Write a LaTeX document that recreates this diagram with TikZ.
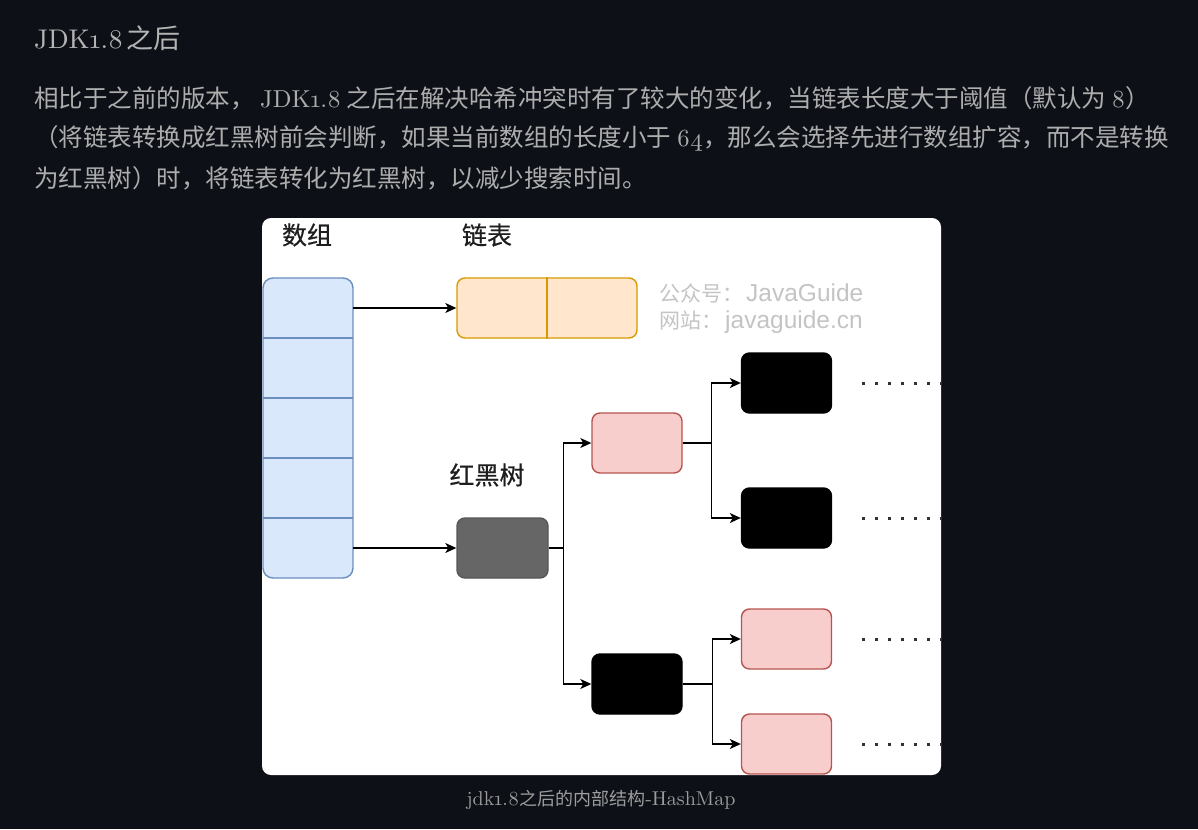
\documentclass[tikz,border=0pt]{standalone}
\usepackage{fontspec}
\usetikzlibrary{arrows.meta}
\newfontfamily\cjk{Noto Sans CJK SC}
\newfontfamily\cjkm{Noto Sans CJK SC}[FakeBold=0.5]
\newfontfamily\osf{lmroman10-regular.otf}[Numbers=OldStyle]
\newfontfamily\lsans{Liberation Sans}
\definecolor{bgcol}{HTML}{0D1117}
\definecolor{bodycol}{HTML}{ADADAD}
\definecolor{hdcol}{HTML}{B4B4B4}
\definecolor{capcol}{HTML}{9C9C9C}
\definecolor{arrfill}{HTML}{DAE8FC}
\definecolor{arrdraw}{HTML}{6C8EBF}
\definecolor{llfill}{HTML}{FFE6CC}
\definecolor{lldraw}{HTML}{D79B00}
\definecolor{pinkfill}{HTML}{F8CECC}
\definecolor{pinkdraw}{HTML}{B85450}
\definecolor{rbfill}{HTML}{666666}
\definecolor{lblcol}{HTML}{1E1E1E}
\definecolor{wmcol}{HTML}{C4C4C4}
\begin{document}
\begin{tikzpicture}[x=1pt,y=-1pt,
  box/.style={rectangle, rounded corners=8pt, minimum width=90pt, minimum height=60pt, inner sep=0pt, line width=1.4pt},
  pinkbox/.style={box, fill=pinkfill, draw=pinkdraw},
  blackbox/.style={box, fill=black, draw=black},
  cell/.style={rectangle, minimum width=90pt, minimum height=60pt, inner sep=0pt},
  conn/.style={line width=1.4pt, -{Stealth[length=11pt,width=10pt,inset=3pt]}},
  dotline/.style={line width=3pt, dash pattern=on 3pt off 10pt, draw=black!80},
  lbl/.style={font=\fontsize{25}{25}\selectfont\cjkm, text=lblcol, inner sep=0pt},
  wm/.style={anchor=west, inner sep=0pt, text=wmcol, font=\fontsize{21}{21}\selectfont\cjk},
  body/.style={anchor=base west, inner sep=0pt, text=bodycol, font=\fontsize{24.5}{29}\selectfont\cjk},
]
\fill[bgcol] (0,0) rectangle (1198,829);
\useasboundingbox (0,0) rectangle (1198,829);

% header and paragraph
\node[anchor=base west, inner sep=0pt, text=hdcol] (hd) at (34,49)
  {{\fontsize{27}{27}\selectfont\osf JDK1.8} {\fontsize{27}{27}\selectfont\cjk 之后}};
\node[body] (t1) at (34,108) {相比于之前的版本， {\osf JDK1.8} 之后在解决哈希冲突时有了较大的变化，当链表长度大于阈值（默认为 {\osf 8}）};
\node[body] (t2) at (34,147) {（将链表转换成红黑树前会判断，如果当前数组的长度小于 {\osf 64}，那么会选择先进行数组扩容，而不是转换};
\node[body] (t3) at (34,187) {为红黑树）时，将链表转化为红黑树，以减少搜索时间。};

% panel
\fill[white, rounded corners=9pt] (262,218) rectangle (941,775);
\begin{scope}
\clip[rounded corners=9pt] (262,218) rectangle (941,775);

% labels
\node[lbl] (l1) at (307,235) {数组};
\node[lbl] (l2) at (487,235) {链表};
\node[lbl] (l3) at (487,475) {红黑树};

% watermark
\node[wm] (w1) at (659,293) {公众号：\hspace{3pt}{\lsans\fontsize{24.5}{24.5}\selectfont JavaGuide}};
\node[wm] (w2) at (659,322) {网站：\hspace{3pt}{\lsans\fontsize{24.5}{24.5}\selectfont javaguide.cn}};

% array
\node[rectangle, rounded corners=10pt, minimum width=90pt, minimum height=300pt, inner sep=0pt,
      fill=arrfill, draw=arrdraw, line width=1.4pt] (arr) at (308,428) {};
\foreach \i in {0,...,4} { \node[cell] (c\i) at (308,308+60*\i) {}; }
\foreach \i in {1,...,4} { \draw[arrdraw, line width=1.4pt] (c\i.north west) -- (c\i.north east); }

% linked list
\node[box, fill=llfill, draw=lldraw, minimum width=180pt] (ll) at (547,308) {};
\draw[lldraw, line width=1.4pt] (ll.north) -- (ll.south);
\draw[conn] (c0.east) -- (ll.west);

% red-black tree
\node[box, fill=rbfill, draw=rbfill!85!black, minimum width=91pt] (rb) at (502.5,548) {};
\draw[conn] (c4.east) -- (rb.west);

\node[pinkbox] (p1) at (637,443) {};
\node[blackbox] (b2) at (637,684) {};
\draw[conn] (rb.east) -- ++(15,0) |- (p1.west);
\draw[conn] (rb.east) -- ++(15,0) |- (b2.west);

\node[blackbox] (b3) at (786.5,383) {};
\node[blackbox] (b4) at (786.5,518) {};
\draw[conn] (p1.east) -- ++(29,0) |- (b3.west);
\draw[conn] (p1.east) -- ++(29,0) |- (b4.west);

\node[pinkbox] (p2) at (786.5,639) {};
\node[pinkbox] (p3) at (786.5,744) {};
\draw[conn] (b2.east) -- ++(30,0) |- (p2.west);
\draw[conn] (b2.east) -- ++(30,0) |- (p3.west);

% continuation dots
\foreach \n in {b3,b4,p2,p3} { \draw[dotline] ([xshift=30pt]\n.east) -- ++(82,0); }
\end{scope}

% caption
\node[anchor=base, inner sep=0pt, text=capcol, font=\fontsize{18}{18}\selectfont\cjk] (cap) at (601,805)
  {{\fontsize{20}{20}\selectfont\osf jdk1.8}之后的内部结构{\fontsize{20}{20}\selectfont\osf -HashMap}};
\end{tikzpicture}
\end{document}
